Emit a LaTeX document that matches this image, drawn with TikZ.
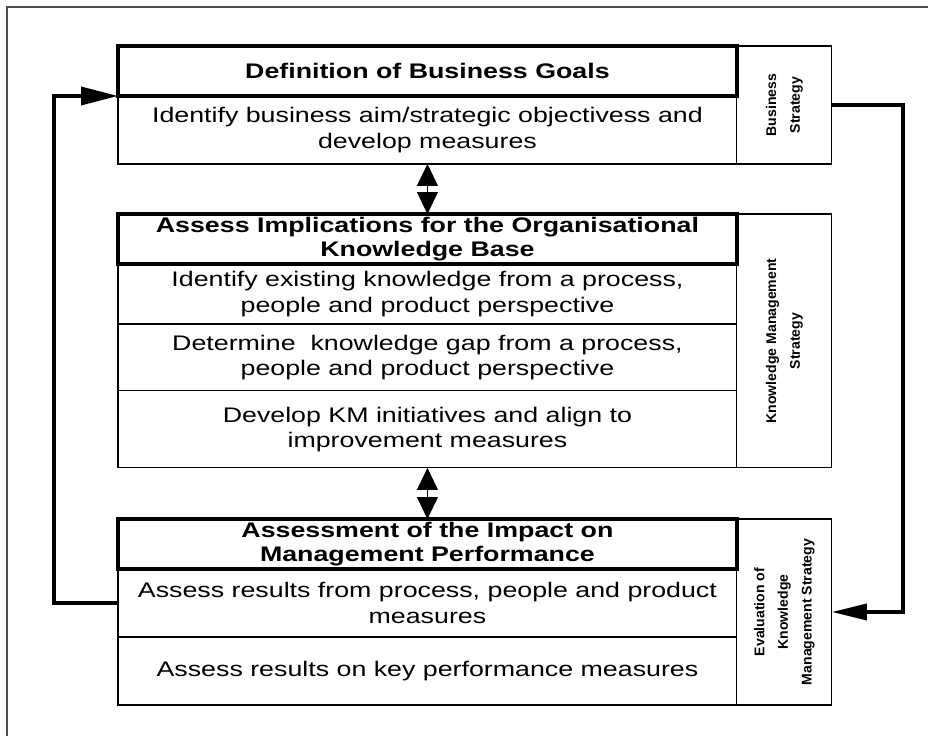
\documentclass[tikz,border=0pt]{standalone}
\usepackage{fontspec}
\setmainfont{Liberation Sans}
\newfontfamily\widesans{Liberation Sans}[FakeStretch=1.27]
\usetikzlibrary{arrows.meta,positioning}

\begin{document}
\begin{tikzpicture}[
  x=0.02cm, y=-0.02cm,
  head/.style={
    draw, line width=2.2pt, outer sep=0pt,
    minimum width=12.38cm, minimum height=1cm,
    inner sep=0pt, align=center,
    font=\widesans\bfseries\fontsize{12}{14}\selectfont
  },
  cell/.style={
    draw, line width=0.6pt, outer sep=0pt,
    minimum width=12.38cm, inner sep=0pt, align=center,
    font=\widesans\fontsize{12}{14.4}\selectfont
  },
  side/.style={
    draw, line width=0.6pt, outer sep=0pt,
    minimum width=1.9cm, inner sep=0pt, anchor=north west
  },
  sidetxt/.style={rotate=90, align=center, font=\bfseries\fontsize{8}{13.5}\selectfont},
  flow/.style={line width=2pt},
  both/.style={line width=0.6pt,
    {Triangle[length=0.44cm,width=0.42cm]}-{Triangle[length=0.44cm,width=0.42cm]}}
]
\path[use as bounding box, fill=white] (0,0) rectangle (928,736);
\draw[black!70, line width=0.8pt] (7,736) |- (928,7);

% --- Business strategy ---
\node[head, anchor=north west] (dh) at (118,46) {Definition of Business Goals};
\node[cell, minimum height=1.36cm, below=0pt of dh] (dr)
  {Identify business aim/strategic objectivess and\\develop measures};
\node[side, minimum height=2.36cm] (ds) at (dh.north east) {};
\node[sidetxt] at (ds.center) {Business\\Strategy};

% --- Knowledge management strategy ---
\node[head, anchor=north west] (ah) at (118,214)
  {Assess Implications for the Organisational\\Knowledge Base};
\node[cell, minimum height=1.2cm, below=0pt of ah] (ar1)
  {Identify existing knowledge from a process,\\people and product perspective};
\node[cell, minimum height=1.34cm, below=0pt of ar1] (ar2)
  {Determine\ \ knowledge gap from a process,\\people and product perspective};
\node[cell, minimum height=1.54cm, below=0pt of ar2] (ar3)
  {Develop KM initiatives and align to\\improvement measures};
\node[side, minimum height=5.08cm] (as) at (ah.north east) {};
\node[sidetxt] at (as.center) {Knowledge Management\\Strategy};

% --- Evaluation ---
\node[head, anchor=north west] (mh) at (118,519)
  {Assessment of the Impact on\\Management Performance};
\node[cell, minimum height=1.36cm, below=0pt of mh] (mr1)
  {Assess results from process, people and product\\measures};
\node[cell, minimum height=1.36cm, below=0pt of mr1] (mr2)
  {Assess results on key performance measures};
\node[side, minimum height=3.72cm] (ms) at (mh.north east) {};
\node[sidetxt] at (ms.center) {Evaluation of\\Knowledge\\Management Strategy};

% --- Links ---
\draw[both] (dr.south) -- (ah.north);
\draw[both] (ar3.south) -- (mh.north);
\draw[flow, -{Triangle[length=0.7cm,width=0.32cm]}] (ds.east) -- ++(71,0) |- (ms.east);
\draw[flow, -{Triangle[length=0.74cm,width=0.36cm]}] (mr1.west) -- ++(-64,0) |- (dh.south west);

\end{tikzpicture}
\end{document}
